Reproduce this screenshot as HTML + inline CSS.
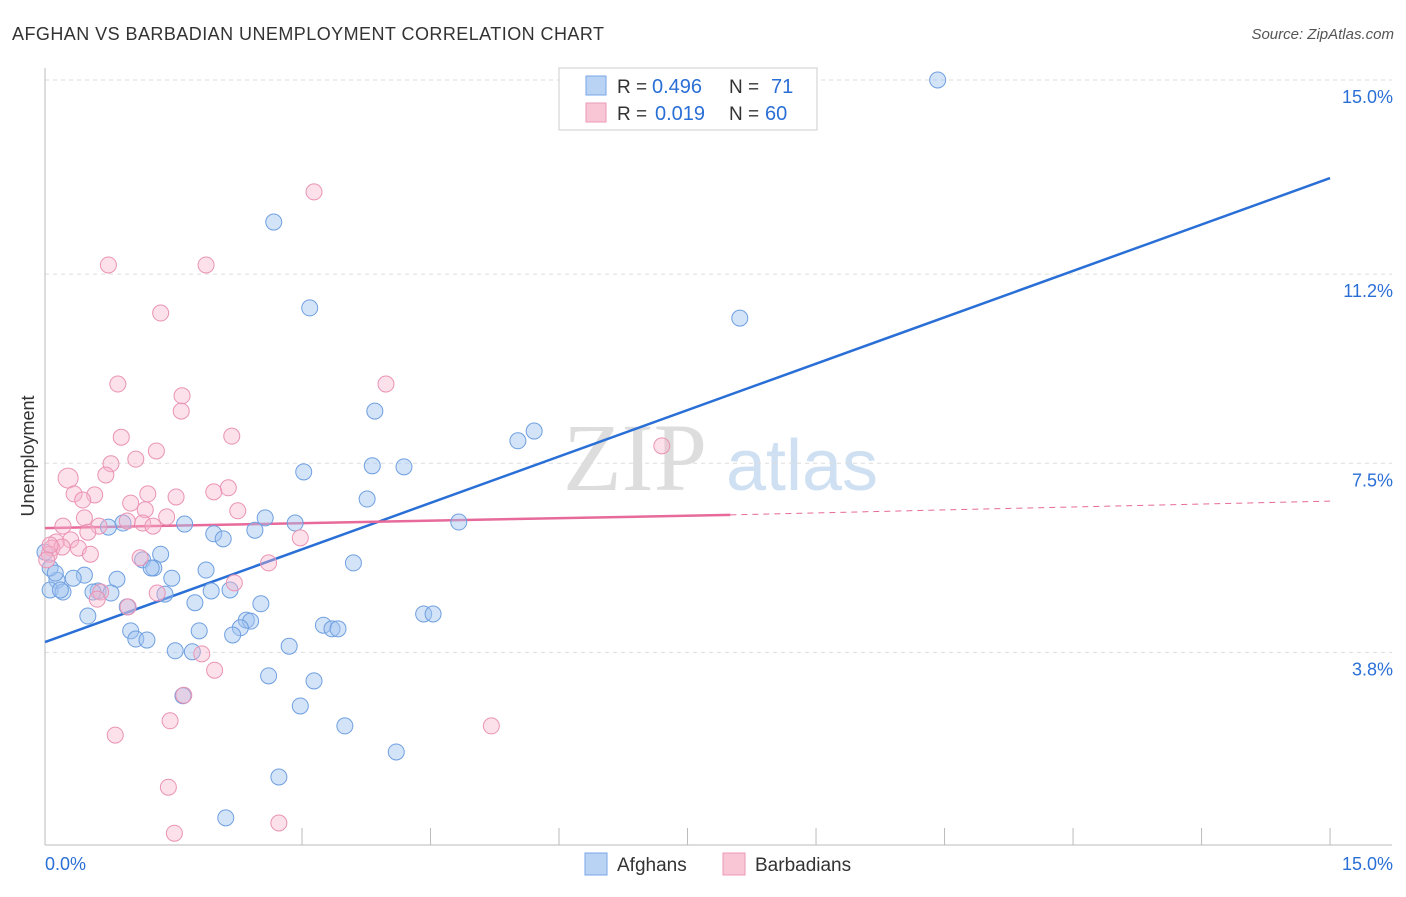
<!DOCTYPE html>
<html><head><meta charset="utf-8"><style>
body{margin:0;background:#fff;font-family:"Liberation Sans",sans-serif}
svg text{font-family:"Liberation Sans",sans-serif}
</style></head><body>
<svg id="chart" width="1406" height="892" xmlns="http://www.w3.org/2000/svg">
<text x="12" y="40" font-size="18" fill="#333" textLength="592">AFGHAN VS BARBADIAN UNEMPLOYMENT CORRELATION CHART</text>
<text x="1394" y="39" font-size="15" fill="#555" text-anchor="end" font-style="italic">Source: ZipAtlas.com</text>
<text x="34" y="456" font-size="18" fill="#333" text-anchor="middle" transform="rotate(-90 34 456)">Unemployment</text>
<g>
<text x="635" y="490" font-size="96" fill="#ddd" text-anchor="middle" font-family="Liberation Serif" style="font-family:'Liberation Serif',serif">ZIP</text>
<text x="802" y="490" font-size="72" fill="#cfe0f3" text-anchor="middle">atlas</text>
</g>
<g id="grid"></g><g id="axes"></g><g id="lines"></g><g id="points"></g>
<g>
<rect x="559" y="68" width="258" height="62" fill="#fff" stroke="#ccc"/>
<rect x="586" y="76" width="20" height="19" fill="#b9d3f5" stroke="#7aa6e6"/>
<rect x="586" y="103" width="20" height="19" fill="#f9c6d6" stroke="#ec9ab8"/>
<text x="617" y="93" font-size="19" fill="#333">R =</text>
<text x="652" y="93" font-size="20" fill="#2a6fd6">0.496</text>
<text x="729" y="93" font-size="19" fill="#333">N =</text>
<text x="771" y="93" font-size="20" fill="#2a6fd6">71</text>
<text x="617" y="120" font-size="19" fill="#333">R =</text>
<text x="655" y="120" font-size="20" fill="#2a6fd6">0.019</text>
<text x="729" y="120" font-size="19" fill="#333">N =</text>
<text x="765" y="120" font-size="20" fill="#2a6fd6">60</text>
</g>
<g>
<rect x="585" y="853" width="22" height="22" fill="#b9d3f5" stroke="#7aa6e6"/>
<text x="617" y="871" font-size="19" fill="#333">Afghans</text>
<rect x="723" y="853" width="22" height="22" fill="#f9c6d6" stroke="#ec9ab8"/>
<text x="755" y="871" font-size="19" fill="#333">Barbadians</text>
</g>
</svg>
<script>
const yTicks=[15.0,11.2,7.5,3.8];
const yTickLabels=["15.0%","11.2%","7.5%","3.8%"];
const xTickVals=[0,1.5,3,4.5,6,7.5,9,10.5,12,13.5,15];
const blueX=[10.42,2.67,3.09,8.11,3.85,5.71,5.52,3.82,4.19,3.02,3.76,4.83,2.57,2.92,1.63,0.91,0.74,1.97,2.08,2.45,1.35,1.14,1.27,1.24,3.60,1.88,1.48,0.84,0.46,0.33,0.14,0.06,0.21,0.62,0.56,0.77,1.40,1.94,2.16,2.52,1.75,0.96,0.50,2.35,2.40,2.28,2.19,1.80,1.00,1.06,1.19,3.25,3.35,3.42,4.42,4.53,2.85,1.52,1.72,2.61,3.14,1.61,2.98,3.50,4.10,2.73,2.11,0.06,0.12,0.18,0.0];
const blueY=[15.0,12.22,10.54,10.34,8.52,8.13,7.94,7.45,7.43,7.33,6.80,6.35,6.43,6.33,6.31,6.33,6.25,6.12,6.02,6.19,5.72,5.61,5.45,5.45,5.55,5.41,5.25,5.23,5.31,5.25,5.21,5.02,4.98,5.00,4.98,4.96,4.94,5.00,5.02,4.75,4.77,4.69,4.51,4.43,4.41,4.28,4.14,4.22,4.22,4.06,4.04,4.33,4.26,4.26,4.55,4.55,3.92,3.83,3.81,3.34,3.24,2.95,2.75,2.36,1.85,1.36,0.56,5.45,5.35,5.02,5.76];
const pinkX=[3.14,0.74,1.88,1.35,0.85,3.98,1.60,1.59,0.89,2.18,1.30,7.20,1.06,0.77,0.71,0.27,2.14,1.97,1.20,1.53,0.34,0.58,1.00,0.44,1.17,2.25,0.46,1.42,0.21,0.63,1.14,1.26,0.96,0.50,0.30,2.98,0.13,0.08,0.20,0.39,0.53,0.05,1.11,2.61,2.21,1.31,0.65,0.61,0.97,1.83,1.98,1.62,1.46,0.82,5.21,1.44,1.51,2.73,0.06,0.02];
const pinkY=[12.81,11.38,11.38,10.44,9.05,9.05,8.82,8.52,8.01,8.03,7.74,7.84,7.58,7.49,7.27,7.21,7.02,6.94,6.90,6.84,6.90,6.88,6.72,6.78,6.59,6.57,6.43,6.45,6.27,6.27,6.33,6.27,6.37,6.15,6.00,6.04,5.96,5.84,5.86,5.84,5.72,5.72,5.65,5.55,5.16,4.96,4.98,4.84,4.69,3.77,3.45,2.96,2.46,2.18,2.36,1.16,0.26,0.46,5.90,5.61];
const blueTrend=[[0,4.0],[15,13.08]];
const pinkTrend=[[0,6.23],[8,6.49],[15,6.76]];
const NS="http://www.w3.org/2000/svg";
const X=v=>45+v*85.67, Y=v=>80+(15-v)*51.1;
function mk(t,a,p){const e=document.createElementNS(NS,t);for(const k in a)e.setAttribute(k,a[k]);document.getElementById(p).appendChild(e);return e;}
yTicks.forEach((t,i)=>{
 const l=mk('line',{x1:45,x2:1392,y1:Y(t),y2:Y(t),stroke:'#ddd','stroke-dasharray':'4,4'},'grid');
 
 
 const tx=mk('text',{x:1393,y:Y(t)+23,'font-size':18,fill:'#2a6fd6','text-anchor':'end'},'grid');
 tx.textContent=yTickLabels[i];
 
 
});
let a=mk('line',{x1:45,x2:45,y1:68,y2:845,stroke:'#bbb'},'axes');


a=mk('line',{x1:45,x2:1392,y1:845,y2:845,stroke:'#bbb'},'axes');


xTickVals.forEach(v=>{if(v<3)return;const t=mk('line',{x1:X(v),x2:X(v),y1:828,y2:845,stroke:'#bbb'},'axes');
 
 });
let t=mk('text',{x:45,y:870,'font-size':18,fill:'#2a6fd6'},'axes');t.textContent='0.0%';


t=mk('text',{x:1393,y:870,'font-size':18,fill:'#2a6fd6','text-anchor':'end'},'axes');t.textContent='15.0%';


blueX.forEach((x,i)=>{const c=mk('circle',{cx:X(x),cy:Y(blueY[i]),r:8,fill:'rgba(160,195,240,0.45)',stroke:'#6f9fe0','stroke-width':1},'points');
 
 });
pinkX.forEach((x,i)=>{const c=mk('circle',{cx:X(x),cy:Y(pinkY[i]),r:i==15?10:8,fill:'rgba(247,180,202,0.4)',stroke:'#ea93b4','stroke-width':1},'points');
 
 });
let ln=mk('line',{x1:X(blueTrend[0][0]),y1:Y(blueTrend[0][1]),x2:X(blueTrend[1][0]),y2:Y(blueTrend[1][1]),stroke:'#2a6fd6','stroke-width':2.5},'lines');


ln=mk('line',{x1:X(pinkTrend[0][0]),y1:Y(pinkTrend[0][1]),x2:X(pinkTrend[1][0]),y2:Y(pinkTrend[1][1]),stroke:'#e76a9a','stroke-width':2.5},'lines');


ln=mk('line',{x1:X(pinkTrend[1][0]),y1:Y(pinkTrend[1][1]),x2:X(pinkTrend[2][0]),y2:Y(pinkTrend[2][1]),stroke:'#e76a9a','stroke-width':1,'stroke-dasharray':'6,5'},'lines');


</script>
</body></html>
